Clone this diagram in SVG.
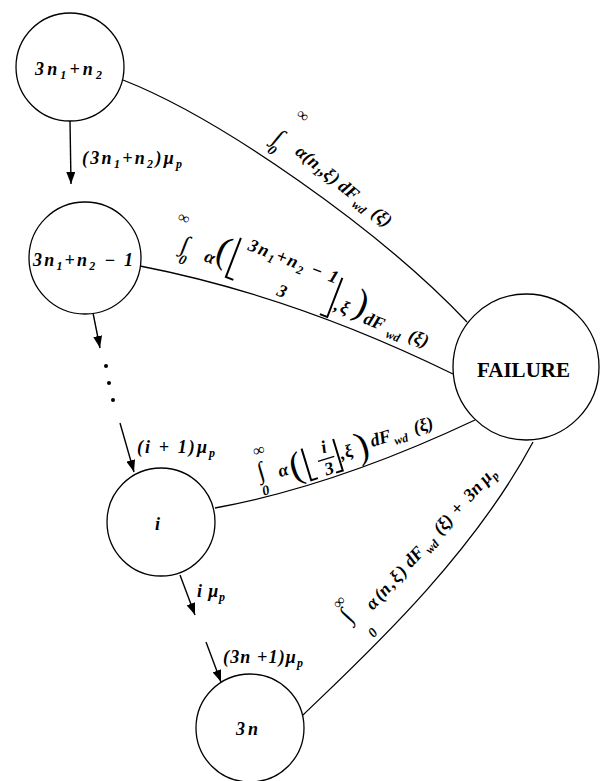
<svg xmlns="http://www.w3.org/2000/svg" width="601" height="781" viewBox="0 0 601 781">
<defs>
<marker id="ah" markerWidth="12" markerHeight="9" refX="12" refY="4.5" orient="auto" markerUnits="userSpaceOnUse">
<path d="M0,0 L12,4.5 L0,9 Z" fill="#000"/>
</marker>
<style>
.node{fill:#fff;stroke:#000;stroke-width:1.3}
.edge{fill:none;stroke:#000;stroke-width:1.3}
.arr{fill:none;stroke:#000;stroke-width:1.4;marker-end:url(#ah)}
.br{fill:none;stroke:#000;stroke-width:2}
.m{font-size:18px}
.s{font-size:12px}
.lim{font-size:14px}
.inf{font-size:16px;font-style:normal}
.int{font-size:24px;font-style:normal;font-weight:normal}
.big{font-size:38px;font-style:normal;font-weight:normal}
.nl{font-size:18px}
</style>
</defs>
<rect width="601" height="781" fill="#fff"/>

<g id="connectors">
<path class="edge" d="M123,80 C220,118 380,230 467,322"/>
<path class="edge" d="M140,266 Q294,296 453,374"/>
<path class="edge" d="M215,508 Q335,486 475,420"/>
<path class="edge" d="M303,715 C360,660 470,560 533,442"/>
<path class="arr" d="M70,121 L71,184"/>
<path class="arr" d="M93,313 L100,348"/>
<path class="arr" d="M120,423 L134,472"/>
<path class="arr" d="M180,575 L195,615"/>
<path class="arr" d="M206,642 L221,682"/>
<circle cx="106" cy="366" r="2"/>
<circle cx="109" cy="383" r="2"/>
<circle cx="113" cy="400" r="2"/>
</g>

<g font-family="'Liberation Serif', 'DejaVu Serif', serif" font-weight="bold" font-style="italic" fill="#000">
<g id="arrow-labels">
<text class="nl" x="82" y="164" textLength="100" lengthAdjust="spacing">(3n<tspan class="s" dy="4">1</tspan><tspan dy="-4">+n</tspan><tspan class="s" dy="4">2</tspan><tspan dy="-4">)μ</tspan><tspan class="s" dy="4">p</tspan></text>
<text class="nl" x="137" y="453" textLength="78" lengthAdjust="spacing">(i  + 1)μ<tspan class="s" dy="4">p</tspan></text>
<text class="nl" x="197" y="597" textLength="28" lengthAdjust="spacing">i μ<tspan class="s" dy="4">p</tspan></text>
<text class="nl" x="223" y="663" textLength="80" lengthAdjust="spacing">(3n +1)μ<tspan class="s" dy="4">p</tspan></text>
</g>

<g id="node-top">
<circle class="node" cx="70" cy="67" r="54"/>
<text class="nl" x="35" y="75" textLength="67" lengthAdjust="spacing">3n<tspan class="s" dy="4">1</tspan><tspan dy="-4">+n</tspan><tspan class="s" dy="4">2</tspan></text>
</g>

<g id="node-second">
<circle class="node" cx="85" cy="258" r="56"/>
<text class="nl" x="33" y="266" textLength="100" lengthAdjust="spacing">3n<tspan class="s" dy="4">1</tspan><tspan dy="-4">+n</tspan><tspan class="s" dy="4">2</tspan><tspan dy="-4"> − 1</tspan></text>
</g>

<g id="node-i">
<circle class="node" cx="161" cy="522" r="54"/>
<text class="nl" x="155" y="530">i</text>
</g>

<g id="node-3n">
<circle class="node" cx="250" cy="728" r="54"/>
<text class="nl" x="236" y="735" textLength="22" lengthAdjust="spacing">3n</text>
</g>

<g id="node-failure">
<circle class="node" cx="526" cy="367" r="73"/>
<text x="477" y="377" font-size="20" font-style="normal" textLength="93" lengthAdjust="spacingAndGlyphs">FAILURE</text>
</g>

<g id="edge-labels">
<g transform="translate(302,152) rotate(39)">
<text class="int" x="-31" y="11">∫</text>
<text class="lim" x="-28" y="22">0</text>
<text class="inf" x="-28" y="-24">∞</text>
<text class="m" y="6"><tspan x="-5">α</tspan><tspan x="5">(</tspan><tspan x="11">n</tspan><tspan class="s" x="21" dy="4">1</tspan><tspan x="27" dy="-4">,</tspan><tspan x="31">ξ</tspan><tspan x="40">)</tspan><tspan x="50">d</tspan><tspan x="59">F</tspan><tspan class="s" x="72" dy="5">wd</tspan><tspan x="93" dy="-5">(ξ)</tspan></text>
</g>

<g transform="translate(210,257) rotate(21)">
<text class="int" x="-31" y="5">∫</text>
<text class="lim" x="-28" y="17">0</text>
<text class="inf" x="-44" y="-22">∞</text>
<text class="m" x="-5" y="6">α</text>
<text class="big" x="4" y="1">(</text>
<polyline class="br" points="22,-29 22,13 30,13"/>
<text class="m" x="32" y="-20" textLength="95" lengthAdjust="spacing">3n<tspan class="s" dy="4">1</tspan><tspan dy="-4">+n</tspan><tspan class="s" dy="4">2</tspan><tspan dy="-4"> − 1</tspan></text>
<text class="m" x="75" y="12">3</text>
<polyline class="br" points="123,14 131,14 131,-28"/>
<text class="m" y="5"><tspan x="134">,</tspan><tspan x="140">ξ</tspan></text>
<text class="big" x="152" y="1">)</text>
<text class="m" y="7"><tspan x="166">d</tspan><tspan x="175">F</tspan><tspan class="s" x="192" dy="5">wd</tspan><tspan x="214" dy="-5">(ξ)</tspan></text>
</g>

<g transform="translate(283,470) rotate(-17)">
<text class="int" x="-25" y="2">∫</text>
<text class="inf" x="-23" y="-21">∞</text>
<text class="lim" x="-26" y="19">0</text>
<text class="m" x="-5" y="6">α</text>
<text class="big" x="7" y="12" font-size="40">(</text>
<polyline class="br" points="24,-15 24,18 31,18"/>
<text class="m" x="43" y="-4">i</text>
<line x1="36" y1="2" x2="53" y2="2" stroke="#000" stroke-width="1.3"/>
<text class="m" x="40" y="18">3</text>
<polyline class="br" points="50,18 57,18 57,-15"/>
<text class="m" y="7"><tspan x="59">,</tspan><tspan x="64">ξ</tspan></text>
<text class="big" x="76" y="12" font-size="40">)</text>
<text class="m" y="4"><tspan x="92">d</tspan><tspan x="101">F</tspan><tspan class="s" x="115" dy="5">wd</tspan><tspan x="137" dy="-5">(ξ)</tspan></text>
</g>

<g transform="translate(372,603) rotate(-48)">
<text class="int" x="-30" y="-3">∫</text>
<text class="inf" x="-27" y="-20">∞</text>
<text class="lim" x="-25" y="25">0</text>
<text class="m" y="6"><tspan x="-5">α</tspan><tspan x="7">(</tspan><tspan x="13">n</tspan><tspan x="25">,</tspan><tspan x="31">ξ</tspan><tspan x="41">)</tspan><tspan x="52">d</tspan><tspan x="61">F</tspan><tspan class="s" x="75" dy="5">wd</tspan><tspan x="96" dy="-5">(ξ)</tspan><tspan x="122">+</tspan><tspan x="141">3n</tspan><tspan x="164">μ</tspan><tspan class="s" x="174" dy="4">p</tspan></text>
</g>
</g>
</g>
</svg>
